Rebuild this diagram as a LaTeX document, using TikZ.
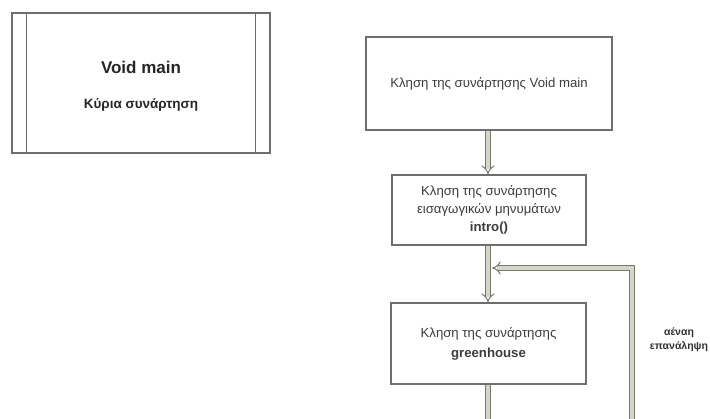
\documentclass[tikz,border=0pt]{standalone}
\usepackage{fontspec}
\setmainfont{Liberation Sans}
\usepackage{xcolor}
\usetikzlibrary{arrows.meta}
\definecolor{boxline}{RGB}{110, 110, 110}
\definecolor{pipefill}{RGB}{214, 214, 200}
\definecolor{pipeline}{RGB}{120, 120, 112}
\definecolor{textgray}{RGB}{60, 60, 60}

\begin{document}
\begin{tikzpicture}[x=1pt, y=-1pt,
    every node/.style={align=center, text=textgray},
    fbox/.style={draw=boxline, line width=1.2pt, fill=white, inner sep=0pt, font=\fontsize{13.2}{18}\selectfont},
    pipe/.style={draw=pipeline, line width=1pt, double=pipefill, double distance=3.6pt},
    flow/.style={pipe, -{Implies[length=7pt, width=14pt]}}]
    \useasboundingbox (0,0) rectangle (710,419);

    % Left block: main function
    \node[fbox, minimum width=258pt, minimum height=140pt] (mainbox) at (141,83) {};
    \draw[boxline, line width=1.2pt] ([xshift=15pt]mainbox.north west) -- ([xshift=15pt]mainbox.south west);
    \draw[boxline, line width=1.2pt] ([xshift=-15pt]mainbox.north east) -- ([xshift=-15pt]mainbox.south east);
    \node[font=\fontsize{17}{19}\selectfont\bfseries, text=black!85] (maintitle) at (141,67) {Void main};
    \node[font=\fontsize{13.5}{15}\selectfont\bfseries, text=black!85] (mainsub) at (141,105) {Κύρια συνάρτηση};

    % Flow chart on the right
    \node[fbox, minimum width=246pt, minimum height=93pt] (callmain) at (489,83.5) {Κληση της συνάρτησης Void main};
    \node[fbox, minimum width=194pt, minimum height=70pt] (callintro) at (489,210)
        {Κληση της συνάρτησης\\εισαγωγικών μηνυμάτων\\\textbf{intro()}};
    \node[fbox, minimum width=195pt, minimum height=81pt] (callgreen) at (488.5,343.5)
        {Κληση της συνάρτησης\\[2pt]\textbf{greenhouse}};

    % Connectors
    \coordinate (bottomout) at (488,419);
    \coordinate (loopbottom) at (632,419);
    \coordinate (loopcorner) at (632,268);
    \coordinate (loopend) at (492,268);
    \draw[flow] (callmain.south -| 488,0) -- (callintro.north -| 488,0);
    \draw[flow] (callintro.south -| 488,0) -- (callgreen.north -| 488,0);
    \draw[pipe] (callgreen.south -| 488,0) -- (bottomout);
    \draw[flow] (loopbottom) -- (loopcorner) -- (loopend);
    \node[font=\fontsize{10.5}{14}\selectfont\bfseries, text=black!80] (looplabel) at (679,340) {αέναη\\επανάληψη};
\end{tikzpicture}
\end{document}
